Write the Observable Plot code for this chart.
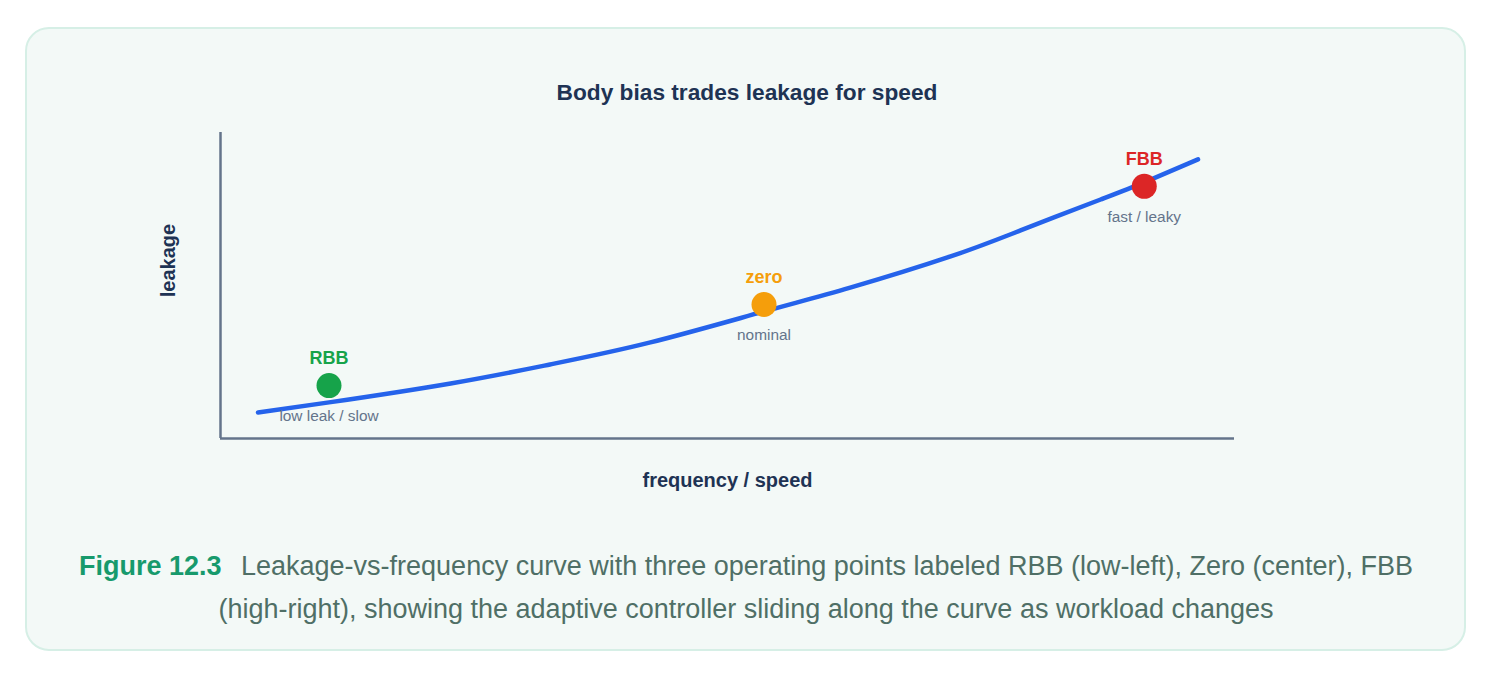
<!DOCTYPE html>
<html>
<head>
<meta charset="utf-8">
<script src="https://cdn.jsdelivr.net/npm/d3@7"></script>
<script src="https://cdn.jsdelivr.net/npm/@observablehq/plot@0.6"></script>
<style>
  html, body { margin: 0; padding: 0; background: #ffffff; width: 1494px; height: 678px; overflow: hidden; font-family: "Liberation Sans", Arial, Helvetica, sans-serif; }
  #card { position: absolute; left: 25px; top: 27px; width: 1441px; height: 624px; box-sizing: border-box; border: 2px solid #d6efe6; border-radius: 24px; background: #f3f9f7; }
  #title { position: absolute; left: 0; width: 1494px; top: 79px; line-height: 26px; text-align: center; font-weight: bold; font-size: 22.7px; color: #1e3354; }
  #chart { position: absolute; left: 0; top: 110px; }
  #caption { position: absolute; left: 46px; width: 1400px; top: 545px; line-height: 43px; text-align: center; font-size: 27px; color: #4f6f66; }
  #caption b { color: #179a6c; margin-right: 12px; }
  .nw { white-space: nowrap; }
</style>
</head>
<body>
<div id="card"></div>
<div id="title">Body bias trades leakage for speed</div>
<div id="chart"></div>
<div id="caption"><b>Figure 12.3</b> Leakage-vs-frequency curve with three operating points labeled RBB (low-left), Zero (center), FBB <span class="nw">(high-right),</span> showing the adaptive controller sliding along the curve as workload changes</div>
<script>
// Curve (frequency vs leakage, arbitrary 0-100 units)
const curveFreq    = [3.7, 10.7, 22.7, 32.5, 42.4, 53.6, 62.1, 72.0, 78.9, 86.8, 91.1, 96.4];
const curveLeakage = [8.5, 11.8, 18.0, 24.2, 31.4, 41.5, 49.3, 59.5, 68.0, 78.1, 83.7, 91.2];

// Operating points
const pointNames   = ["RBB", "zero", "FBB"];
const pointNotes   = ["low leak / slow", "nominal", "fast / leaky"];
const pointFreq    = [10.7, 53.6, 91.1];
const pointLeakage = [17.3, 43.8, 82.4];
const pointColors  = ["#16a34a", "#f59e0b", "#dc2626"];

const xLabel = "frequency / speed";
const yLabel = "leakage";

const curve = curveFreq.map((f, i) => ({f, l: curveLeakage[i]}));
const pts = pointNames.map((n, i) => ({name: n, note: pointNotes[i], f: pointFreq[i], l: pointLeakage[i], color: pointColors[i]}));

const axisColor = "#64748b";
const ink = "#1e3354";

const plot = Plot.plot({
  width: 1494,
  height: 400,
  marginLeft: 220,
  marginRight: 260,
  marginTop: 22,
  marginBottom: 72,
  style: {background: "transparent", fontFamily: "'Liberation Sans', Arial, sans-serif", overflow: "visible"},
  x: {domain: [0, 100], axis: null},
  y: {domain: [0, 100], axis: null},
  marks: [
    Plot.ruleX([0], {y1: 0, y2: 100, stroke: axisColor, strokeWidth: 2.5}),
    Plot.ruleY([0], {x1: 0, x2: 100, stroke: axisColor, strokeWidth: 2.5}),
    Plot.line(curve, {x: "f", y: "l", curve: "natural", stroke: "#2563eb", strokeWidth: 4.5}),
    Plot.dot(pts, {x: "f", y: "l", r: 12.5, fill: "color", stroke: null}),
    Plot.text(pts, {x: "f", y: "l", text: "name", fill: "color", dy: -27, fontSize: 18, fontWeight: "bold"}),
    Plot.text(pts, {x: "f", y: "l", text: "note", fill: axisColor, dy: 31, fontSize: 15.4}),
    Plot.text([xLabel], {text: d => d, frameAnchor: "bottom", dy: 48, fontSize: 20, fontWeight: "bold", fill: ink}),
    Plot.text([yLabel], {text: d => d, frameAnchor: "left", textAnchor: "middle", dx: -52, dy: -25, rotate: -90, fontSize: 20, fontWeight: "bold", fill: ink})
  ]
});
document.getElementById("chart").appendChild(plot);
</script>
</body>
</html>
